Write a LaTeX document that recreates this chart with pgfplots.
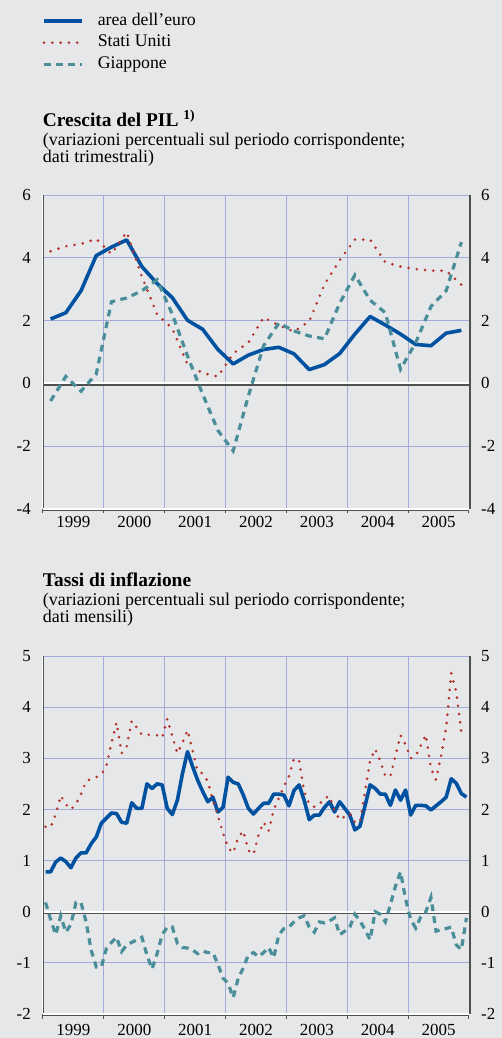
\documentclass[border=0pt]{standalone}
\usepackage{pgfplots}
\pgfplotsset{compat=1.18}
\usepackage{pgfplotstable}
\usepackage{fontspec}
\setmainfont{Liberation Serif}
\definecolor{bg}{RGB}{230,231,233}
\definecolor{gridc}{RGB}{163,172,217}
\definecolor{axc}{RGB}{80,80,80}
\definecolor{euro}{RGB}{0,82,160}
\definecolor{usa}{RGB}{180,52,44}
\definecolor{jap}{RGB}{74,142,154}

\pgfplotstableread{
k eu us jp
0 2.05 4.21 -0.56
1 2.25 4.37 0.22
2 2.95 4.44 -0.25
3 4.07 4.60 0.30
4 4.34 4.12 2.60
5 4.57 4.82 2.72
6 3.72 3.40 2.95
7 3.18 2.20 3.30
8 2.73 1.75 2.20
9 2.01 0.60 0.87
10 1.72 0.33 -0.35
11 1.08 0.22 -1.50
12 0.62 0.95 -2.15
13 0.90 1.30 -0.40
14 1.08 2.10 1.20
15 1.15 1.85 1.92
16 0.94 1.65 1.67
17 0.44 1.98 1.51
18 0.60 3.15 1.42
19 0.95 3.92 2.55
20 1.57 4.58 3.45
21 2.13 4.58 2.65
22 1.86 3.86 2.25
23 1.57 3.72 0.45
24 1.24 3.64 1.30
25 1.20 3.59 2.45
26 1.60 3.59 2.95
27 1.69 3.14 4.50
}\gdp

\pgfplotstableread{
i eu us jp
0 0.78 1.66 0.18
1 0.78 1.65 -0.15
2 0.97 1.90 -0.45
3 1.05 2.27 -0.08
4 0.98 2.10 -0.40
5 0.86 2.00 -0.25
6 1.05 2.10 0.18
7 1.15 2.30 0.18
8 1.15 2.55 -0.20
9 1.33 2.60 -0.75
10 1.46 2.63 -1.08
11 1.73 2.68 -1.08
12 1.83 2.85 -0.72
13 1.93 3.30 -0.60
14 1.92 3.70 -0.50
15 1.75 3.10 -0.78
16 1.73 3.23 -0.65
17 2.13 3.73 -0.60
18 2.02 3.60 -0.55
19 2.02 3.46 -0.50
20 2.50 3.46 -0.85
21 2.41 3.46 -1.12
22 2.50 3.45 -0.82
23 2.48 3.40 -0.45
24 2.02 3.77 -0.30
25 1.90 3.43 -0.30
26 2.18 3.10 -0.62
27 2.70 3.30 -0.70
28 3.13 3.55 -0.71
29 2.84 3.15 -0.75
30 2.57 2.75 -0.82
31 2.35 2.70 -0.77
32 2.15 2.55 -0.80
33 2.24 2.18 -0.80
34 1.95 1.87 -1.03
35 2.04 1.54 -1.30
36 2.63 1.25 -1.40
37 2.53 1.15 -1.68
38 2.50 1.45 -1.30
39 2.28 1.58 -1.10
40 2.02 1.20 -0.84
41 1.91 1.12 -0.80
42 2.02 1.50 -0.88
43 2.12 1.75 -0.80
44 2.12 1.58 -0.70
45 2.30 2.00 -0.90
46 2.30 2.22 -0.45
47 2.28 2.45 -0.33
48 2.07 2.65 -0.30
49 2.37 3.00 -0.20
50 2.48 2.95 -0.12
51 2.18 2.35 -0.08
52 1.80 2.10 -0.30
53 1.89 2.05 -0.40
54 1.89 2.10 -0.20
55 2.04 2.22 -0.22
56 2.15 2.26 -0.18
57 1.95 1.97 -0.12
58 2.15 1.80 -0.45
59 2.02 1.86 -0.38
60 1.89 1.92 -0.30
61 1.60 1.75 -0.05
62 1.67 1.75 -0.18
63 2.07 2.35 -0.35
64 2.48 2.95 -0.55
65 2.41 3.18 0.00
66 2.30 2.95 -0.05
67 2.30 2.65 -0.20
68 2.08 2.65 0.14
69 2.38 3.05 0.50
70 2.18 3.45 0.78
71 2.38 3.27 0.25
72 1.89 3.00 -0.15
73 2.08 3.05 -0.32
74 2.08 3.25 -0.10
75 2.07 3.46 0.00
76 1.99 2.80 0.28
77 2.07 2.58 -0.38
78 2.15 3.05 -0.35
79 2.24 3.60 -0.33
80 2.60 4.66 -0.30
81 2.51 4.30 -0.65
82 2.31 3.50 -0.74
83 2.24 nan -0.12
}\infl

\pgfplotsset{
  ecb/.style={
    anchor=south west, scale only axis, width=426bp,
    xmin=1999, xmax=2006, clip=false,
    axis line style={draw=none},
    xtick={1999.5,2000.5,2001.5,2002.5,2003.5,2004.5,2005.5},
    xticklabels={1999,2000,2001,2002,2003,2004,2005},
    minor xtick={1999,2000,2001,2002,2003,2004,2005,2006},
    tick pos=left, tick align=outside,
    major tick length=0pt, minor tick length=4.5bp,
    minor tick style={axc, line width=1bp},
    ymajorgrids=true, xminorgrids=true,
    major grid style={gridc, line width=0.9bp},
    minor grid style={gridc, line width=0.9bp},
    xticklabel style={font=\fontsize{17}{17}\selectfont, inner sep=0pt, anchor=north},
    yticklabel style={font=\fontsize{17}{17}\selectfont, inner sep=0pt, anchor=east, xshift=-12bp},
    /pgf/number format/assume math mode=true,
  },
  ecbright/.style={
    anchor=south west, scale only axis, width=426bp,
    xmin=1999, xmax=2006, xtick=\empty,
    axis line style={draw=none},
    ytick pos=right, yticklabel pos=right, major tick length=0pt,
    yticklabel style={font=\fontsize{17}{17}\selectfont, inner sep=0pt, anchor=west, xshift=12bp},
    /pgf/number format/assume math mode=true,
  },
  euline/.style={euro, line width=3.6bp, line join=round},
  usline/.style={usa, line width=2.9bp, line cap=round, dash pattern=on 0bp off 8.3bp},
  jpline/.style={jap, line width=3.2bp, dash pattern=on 6.7bp off 5.3bp},
}

\begin{document}
\begin{tikzpicture}
\path[use as bounding box, fill=bg] (0bp,0bp) rectangle (502bp,1038bp);

% titles
\node[anchor=base west, inner sep=0pt, font=\bfseries\fontsize{19.5}{19.5}\selectfont] at (42.7bp,911bp) {Crescita del PIL \textsuperscript{1)}};
\node[anchor=base west, inner sep=0pt, font=\fontsize{18}{18}\selectfont] at (42.7bp,892bp) {(variazioni percentuali sul periodo corrispondente;};
\node[anchor=base west, inner sep=0pt, font=\fontsize{18}{18}\selectfont] at (42.7bp,875bp) {dati trimestrali)};

\node[anchor=base west, inner sep=0pt, font=\bfseries\fontsize{19.5}{19.5}\selectfont] at (42.7bp,451bp) {Tassi di inflazione};
\node[anchor=base west, inner sep=0pt, font=\fontsize{18}{18}\selectfont] at (42.7bp,432bp) {(variazioni percentuali sul periodo corrispondente;};
\node[anchor=base west, inner sep=0pt, font=\fontsize{18}{18}\selectfont] at (42.7bp,415bp) {dati mensili)};

% ---------- top panel ----------
\begin{axis}[ecb, at={(43bp,529bp)}, height=314bp, ymin=-4, ymax=6,
  ytick={-4,-2,0,2,4,6},
  xticklabel style={yshift=-7bp},
  legend style={at={(axis description cs:-0.0023,1.5796)}, anchor=north west,
    draw=none, fill=none, inner sep=0pt, row sep=5.5bp, column sep=14bp,
    font=\fontsize{17.8}{17.8}\selectfont,
    nodes={inner sep=0pt, text height=12bp, text depth=4bp}, cells={anchor=west}},
  legend image code/.code={\draw[#1] (0bp,0bp) -- (38bp,0bp);},
]
\draw[axc, line width=1.2bp] ([yshift=-1.6bp]axis cs:1999,0) -- ([yshift=-1.6bp]axis cs:2006,0);
\draw[white, line width=1.8bp] (axis cs:1999,0) -- (axis cs:2006,0);
\addplot[euline] table[x expr={1999+(\thisrow{k}+0.5)/4}, y=eu] {\gdp};
\addlegendentry{area dell’euro}
\addplot[usline] table[x expr={1999+(\thisrow{k}+0.5)/4}, y=us] {\gdp};
\addlegendentry{Stati Uniti}
\addplot[jpline] table[x expr={1999+(\thisrow{k}+0.5)/4}, y=jp] {\gdp};
\addlegendentry{Giappone}
\draw[white, line width=1bp] ([xshift=-0.9bp]axis cs:1999,-4) -- ([xshift=-0.9bp]axis cs:1999,6);
\draw[axc, line width=1.3bp] ([xshift=0.5bp]axis cs:1999,-4) -- ([xshift=0.5bp]axis cs:1999,6);
\draw[axc, line width=1.3bp] ([xshift=1bp]axis cs:2006,-4) -- ([xshift=1bp]axis cs:2006,6);
\draw[white, line width=1.4bp] (axis cs:1999,-4) -- (axis cs:2006,-4);
\draw[axc, line width=0.8bp] ([yshift=-1.1bp]axis cs:1999,-4) -- ([yshift=-1.1bp]axis cs:2006,-4);
\end{axis}
\begin{axis}[ecbright, at={(43bp,529bp)}, height=314bp, ymin=-4, ymax=6, ytick={-4,-2,0,2,4,6}]
\end{axis}

% ---------- bottom panel ----------
\begin{axis}[ecb, at={(43bp,24bp)}, height=358bp, ymin=-2, ymax=5,
  ytick={-2,-1,0,1,2,3,4,5},
  xticklabel style={yshift=-10bp},
]
\draw[axc, line width=1.2bp] ([yshift=-1.6bp]axis cs:1999,0) -- ([yshift=-1.6bp]axis cs:2006,0);
\draw[white, line width=1.8bp] (axis cs:1999,0) -- (axis cs:2006,0);
\addplot[euline] table[x expr={1999+(\thisrow{i}+0.5)/12}, y=eu] {\infl};
\addplot[usline] table[x expr={1999+(\thisrow{i}+0.5)/12}, y=us] {\infl};
\addplot[jpline] table[x expr={1999+(\thisrow{i}+0.5)/12}, y=jp] {\infl};
\draw[white, line width=1bp] ([xshift=-0.9bp]axis cs:1999,-2) -- ([xshift=-0.9bp]axis cs:1999,5);
\draw[axc, line width=1.3bp] ([xshift=0.5bp]axis cs:1999,-2) -- ([xshift=0.5bp]axis cs:1999,5);
\draw[axc, line width=1.3bp] ([xshift=1bp]axis cs:2006,-2) -- ([xshift=1bp]axis cs:2006,5);
\draw[white, line width=1.4bp] (axis cs:1999,-2) -- (axis cs:2006,-2);
\draw[axc, line width=0.8bp] ([yshift=-1.1bp]axis cs:1999,-2) -- ([yshift=-1.1bp]axis cs:2006,-2);
\end{axis}
\begin{axis}[ecbright, at={(43bp,24bp)}, height=358bp, ymin=-2, ymax=5, ytick={-2,-1,0,1,2,3,4,5}]
\end{axis}
\end{tikzpicture}
\end{document}
